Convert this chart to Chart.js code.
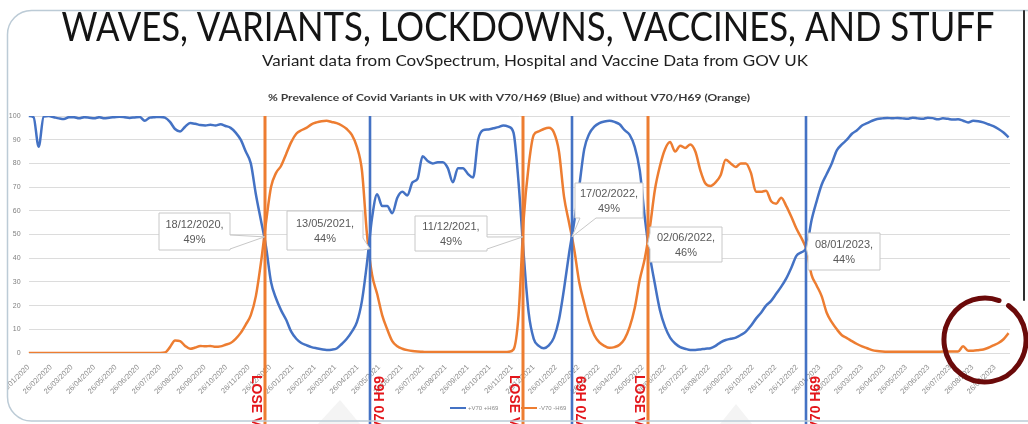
<!DOCTYPE html>
<html>
<head>
<meta charset="utf-8">
<title>Waves, variants, lockdowns, vaccines, and stuff</title>
<script src="https://cdn.jsdelivr.net/npm/chart.js@4.4.1/dist/chart.umd.min.js"></script>
<style>
  html, body { margin: 0; padding: 0; background: #fff; }
  #wrap { position: relative; width: 1028px; height: 424px; }
</style>
</head>
<body>
<div id="wrap"><canvas id="variantChart" width="1028" height="424"></canvas></div>
<script>
// weekly sample dates (dd/mm/yyyy)
const weekDates = [
  '26/01/2020',
  '02/02/2020','09/02/2020','16/02/2020','23/02/2020',
  '01/03/2020','08/03/2020','15/03/2020','22/03/2020','29/03/2020',
  '05/04/2020','12/04/2020','19/04/2020','26/04/2020',
  '03/05/2020','10/05/2020','17/05/2020','24/05/2020','31/05/2020',
  '07/06/2020','14/06/2020','21/06/2020','28/06/2020',
  '05/07/2020','12/07/2020','19/07/2020','26/07/2020',
  '02/08/2020','09/08/2020','16/08/2020','23/08/2020','30/08/2020',
  '06/09/2020','13/09/2020','20/09/2020','27/09/2020',
  '04/10/2020','11/10/2020','18/10/2020','25/10/2020',
  '01/11/2020','08/11/2020','15/11/2020','22/11/2020','29/11/2020',
  '06/12/2020','13/12/2020','20/12/2020','27/12/2020',
  '03/01/2021','10/01/2021','17/01/2021','24/01/2021','31/01/2021',
  '07/02/2021','14/02/2021','21/02/2021','28/02/2021',
  '07/03/2021','14/03/2021','21/03/2021','28/03/2021',
  '04/04/2021','11/04/2021','18/04/2021','25/04/2021',
  '02/05/2021','09/05/2021','16/05/2021','23/05/2021','30/05/2021',
  '06/06/2021','13/06/2021','20/06/2021','27/06/2021',
  '04/07/2021','11/07/2021','18/07/2021','25/07/2021',
  '01/08/2021','08/08/2021','15/08/2021','22/08/2021','29/08/2021',
  '05/09/2021','12/09/2021','19/09/2021','26/09/2021',
  '03/10/2021','10/10/2021','17/10/2021','24/10/2021','31/10/2021',
  '07/11/2021','14/11/2021','21/11/2021','28/11/2021',
  '05/12/2021','12/12/2021','19/12/2021','26/12/2021',
  '02/01/2022','09/01/2022','16/01/2022','23/01/2022','30/01/2022',
  '06/02/2022','13/02/2022','20/02/2022','27/02/2022',
  '06/03/2022','13/03/2022','20/03/2022','27/03/2022',
  '03/04/2022','10/04/2022','17/04/2022','24/04/2022',
  '01/05/2022','08/05/2022','15/05/2022','22/05/2022','29/05/2022',
  '05/06/2022','12/06/2022','19/06/2022','26/06/2022',
  '03/07/2022','10/07/2022','17/07/2022','24/07/2022','31/07/2022',
  '07/08/2022','14/08/2022','21/08/2022','28/08/2022',
  '04/09/2022','11/09/2022','18/09/2022','25/09/2022',
  '02/10/2022','09/10/2022','16/10/2022','23/10/2022','30/10/2022',
  '06/11/2022','13/11/2022','20/11/2022','27/11/2022',
  '04/12/2022','11/12/2022','18/12/2022','25/12/2022',
  '01/01/2023','08/01/2023','15/01/2023','22/01/2023','29/01/2023',
  '05/02/2023','12/02/2023','19/02/2023','26/02/2023',
  '05/03/2023','12/03/2023','19/03/2023','26/03/2023',
  '02/04/2023','09/04/2023','16/04/2023','23/04/2023','30/04/2023',
  '07/05/2023','14/05/2023','21/05/2023','28/05/2023',
  '04/06/2023','11/06/2023','18/06/2023','25/06/2023',
  '02/07/2023','09/07/2023','16/07/2023','23/07/2023','30/07/2023',
  '06/08/2023','13/08/2023','20/08/2023','27/08/2023',
  '03/09/2023','10/09/2023','17/09/2023','24/09/2023',
  '01/10/2023','08/10/2023','15/10/2023'
];

// % with V70/H69 (blue)
const withV70 = [
  100,
  99.5, 87, 99.8, 100,
  99.5, 99, 98.7, 99.5, 99.5,
  99, 99.5, 99.3, 99,
  99.5, 99, 99.3, 99.5, 99.7,
  99.5, 99.2, 99.4, 99.6,
  98, 99.3, 99.5, 99.6,
  99.3, 97.5, 94.5, 93.5, 95.5,
  97, 96.7, 96.2, 96,
  96.3, 96, 96.5, 95.8,
  95, 93, 90, 85, 80,
  67, 56, 45, 30,
  23, 18, 14, 9, 6,
  4.2, 3.3, 2.5, 2,
  1.6, 1.3, 1.4, 1.9,
  3.8, 6, 9, 13,
  22, 38, 57, 67, 62,
  62, 59, 65.5, 68,
  66.5, 72, 73.5, 83,
  81, 80, 80.5, 80.5, 78,
  72, 78, 78, 75.5,
  74, 90, 94, 94.3, 94.8,
  95.3, 96, 95.5, 93,
  72, 42, 17, 6,
  3, 2, 3.2, 6.5, 14,
  27, 42, 55, 70,
  86, 92.5, 95.5, 97,
  97.7, 98, 97.5, 96.5,
  94, 92, 87, 77, 57,
  41, 29, 18, 11,
  6.5, 4, 2.5, 1.8, 1.3,
  1.3, 1.5, 1.8, 2,
  3, 4.5, 5.5, 6,
  6.5, 7.6, 9, 11.5, 14.5,
  17, 20, 22, 25,
  28, 31.5, 36, 41,
  42.5, 44.5, 56, 64, 71,
  75.5, 80, 85.5, 88,
  90, 92.5, 94, 96,
  97, 98, 98.7, 99, 99.2,
  99, 99.2, 99, 98.8,
  99.3, 99, 98.8, 99.3,
  99.1, 98.6, 99, 98.8, 98.5,
  98.6, 98, 97.3, 98,
  97.8, 97.3, 96.5, 95.7,
  94.5, 93, 91
];

// % without V70/H69 (orange)
const withoutV70 = [
  0,
  0, 0, 0, 0,
  0, 0, 0, 0, 0,
  0, 0, 0, 0,
  0, 0, 0, 0, 0,
  0, 0, 0, 0,
  0, 0, 0, 0,
  0.2, 2.5, 5.3, 5, 3,
  1.8, 2.3, 3, 2.8,
  3, 2.6, 2.8, 3.5,
  4.2, 6, 8.5, 12, 16,
  24, 38, 55, 70,
  76, 79, 84, 89, 92.5,
  94, 95, 96.5, 97.3,
  97.8, 98, 97.5, 97,
  96, 94.5, 92, 87,
  77, 50, 33, 25, 16,
  10, 5, 2.8, 1.8,
  1.2, 0.8, 0.6, 0.5,
  0.4, 0.4, 0.4, 0.4, 0.4,
  0.4, 0.4, 0.4, 0.4,
  0.4, 0.4, 0.4, 0.4, 0.4,
  0.4, 0.4, 0.5, 1.5,
  16, 56, 79, 92,
  93.5, 94.5, 95, 93, 85,
  66, 55, 44, 30,
  21, 13, 7.5, 4.5,
  3, 2.2, 2.5, 3.5,
  6, 11, 19, 31, 40,
  53, 69, 79, 86,
  89, 85, 87.5, 86.5, 88,
  85, 77, 71.5, 70.5,
  72, 75, 81.5, 80,
  78.5, 80, 80, 76, 68,
  68, 68.5, 64, 63,
  65.5, 62, 57.5, 52.5,
  48.5, 43.5, 33, 28.5, 24,
  17, 13, 10, 7.5,
  6.3, 5, 3.8, 2.8,
  2, 1.2, 0.8, 0.6, 0.5,
  0.5, 0.5, 0.5, 0.5,
  0.5, 0.5, 0.5, 0.5,
  0.5, 0.5, 0.6, 0.6, 0.6,
  0.6, 2.8, 1, 1,
  1.2, 1.5, 2.2, 3.2,
  4.2, 5.8, 8.4
];

const tickLabels = [
  '26/01/2020','26/02/2020','26/03/2020','26/04/2020','26/05/2020','26/06/2020',
  '26/07/2020','26/08/2020','26/09/2020','26/10/2020','26/11/2020','26/12/2020',
  '26/01/2021','26/02/2021','26/03/2021','26/04/2021','26/05/2021','26/06/2021',
  '26/07/2021','26/08/2021','26/09/2021','26/10/2021','26/11/2021','26/12/2021',
  '26/01/2022','26/02/2022','26/03/2022','26/04/2022','26/05/2022','26/06/2022',
  '26/07/2022','26/08/2022','26/09/2022','26/10/2022','26/11/2022','26/12/2022',
  '26/01/2023','26/02/2023','26/03/2023','26/04/2023','26/05/2023','26/06/2023',
  '26/07/2023','26/08/2023','26/09/2023'
];

// switch-over dates, marked with vertical lines and callouts
const changeDates = ['18/12/2020','13/05/2021','11/12/2021','17/02/2022','02/06/2022','08/01/2023'];
const changePct   = [49, 44, 49, 49, 46, 44];
const changeKind  = ['lose','gain','lose','gain','lose','gain'];
const kindText    = { lose: 'LOSE V70 H69', gain: 'GAIN V70 H69' };
const seriesNames = ['+V70 +H69', '-V70 -H69'];

// callout box placement (pixels), same order as changeDates
const calloutLayout = [
  { x: 159, y: 213, w: 71, h: 37, side: 'right',  b1: 235, b2: 249 },
  { x: 287, y: 211, w: 76, h: 39, side: 'right',  b1: 238, b2: 250 },
  { x: 415, y: 216, w: 72, h: 35, side: 'right',  b1: 237, b2: 249 },
  { x: 575, y: 183, w: 68, h: 35, side: 'bottom', b1: 580, b2: 596 },
  { x: 650, y: 227, w: 72, h: 35, side: 'left',   b1: 233, b2: 249 },
  { x: 808, y: 233, w: 72, h: 37, side: 'left',   b1: 240, b2: 256 }
];

const BLUE = '#4472c4';
const ORANGE = '#ed7d31';
const FONT = "'Liberation Sans', Arial, sans-serif";

function dayOf(s) {
  const [d, m, y] = s.split('/').map(Number);
  return (Date.UTC(y, m - 1, d) - Date.UTC(2020, 0, 26)) / 86400000;
}

function fitText(ctx, text, cx, baseline, font, width, color) {
  ctx.save();
  ctx.font = font;
  const w = ctx.measureText(text).width;
  ctx.translate(cx, baseline);
  ctx.scale(width / w, 1);
  ctx.fillStyle = color;
  ctx.textAlign = 'center';
  ctx.textBaseline = 'alphabetic';
  ctx.fillText(text, 0, 0);
  ctx.restore();
}

function calloutPath(ctx, b, tx, ty) {
  const x1 = b.x, y1 = b.y, x2 = b.x + b.w, y2 = b.y + b.h;
  ctx.beginPath();
  ctx.moveTo(x1, y1);
  ctx.lineTo(x2, y1);
  if (b.side === 'right') { ctx.lineTo(x2, b.b1); ctx.lineTo(tx, ty); ctx.lineTo(x2, b.b2); }
  ctx.lineTo(x2, y2);
  if (b.side === 'bottom') { ctx.lineTo(b.b2, y2); ctx.lineTo(tx, ty); ctx.lineTo(b.b1, y2); }
  ctx.lineTo(x1, y2);
  if (b.side === 'left') { ctx.lineTo(x1, b.b2); ctx.lineTo(tx, ty); ctx.lineTo(x1, b.b1); }
  ctx.closePath();
}

const overlayPlugin = {
  id: 'overlay',
  beforeDraw(chart) {
    const ctx = chart.ctx;
    ctx.save();
    ctx.fillStyle = '#fff';
    ctx.fillRect(0, 0, chart.width, chart.height);

    // faint watermark shapes at the bottom
    ctx.fillStyle = '#f4f4f4';
    ctx.beginPath(); ctx.moveTo(318, 424); ctx.lineTo(340, 400); ctx.lineTo(360, 424); ctx.fill();
    ctx.beginPath(); ctx.moveTo(720, 424); ctx.lineTo(736, 404); ctx.lineTo(752, 424); ctx.fill();

    fitText(ctx, 'WAVES, VARIANTS, LOCKDOWNS, VACCINES, AND STUFF', 528, 41, '41px Lato', 933, '#141414');
    fitText(ctx, 'Variant data from CovSpectrum, Hospital and Vaccine Data from GOV UK', 535, 66, '15px Lato', 546, '#1e1e1e');
    fitText(ctx, '% Prevalence of Covid Variants in UK with V70/H69 (Blue) and without V70/H69 (Orange)',
      509, 101, 'bold 10px Lato', 482, '#3a3a3a');
    ctx.restore();
  },
  afterDatasetsDraw(chart) {
    const ctx = chart.ctx;
    const xs = chart.scales.x;
    const top = chart.chartArea.top;
    ctx.save();
    changeDates.forEach((d, i) => {
      const x = Math.round(xs.getPixelForValue(dayOf(d)));
      const lose = changeKind[i] === 'lose';
      ctx.strokeStyle = lose ? ORANGE : BLUE;
      ctx.lineWidth = lose ? 3 : 2.6;
      ctx.beginPath();
      ctx.moveTo(x, top);
      ctx.lineTo(x, chart.height);
      ctx.stroke();

      // rotated red label beside the line
      ctx.save();
      ctx.fillStyle = '#e3161b';
      ctx.font = 'bold 14px ' + FONT;
      ctx.textBaseline = 'alphabetic';
      if (lose) {
        ctx.translate(x - 13, 375);
        ctx.rotate(Math.PI / 2);
        ctx.textAlign = 'left';
      } else {
        ctx.translate(x + 14, 376);
        ctx.rotate(-Math.PI / 2);
        ctx.textAlign = 'right';
      }
      ctx.fillText(kindText[changeKind[i]], 0, 0);
      ctx.restore();
    });
    ctx.restore();
  },
  afterDraw(chart) {
    const ctx = chart.ctx;
    const xs = chart.scales.x, ys = chart.scales.y;
    ctx.save();

    // callouts
    changeDates.forEach((d, i) => {
      const b = calloutLayout[i];
      const tx = xs.getPixelForValue(dayOf(d));
      const ty = ys.getPixelForValue(changePct[i]);
      calloutPath(ctx, b, tx, ty);
      ctx.fillStyle = '#fff';
      ctx.fill();
      ctx.strokeStyle = '#c8c8c8';
      ctx.lineWidth = 1;
      ctx.stroke();
      ctx.fillStyle = '#595959';
      ctx.font = '11px ' + FONT;
      ctx.textAlign = 'center';
      ctx.textBaseline = 'middle';
      const cx = b.x + b.w / 2;
      ctx.fillText(d + ',', cx, b.y + b.h / 2 - 7);
      ctx.fillText(changePct[i] + '%', cx, b.y + b.h / 2 + 8);
    });

    // small legend
    [[450, BLUE, seriesNames[0]], [521, ORANGE, seriesNames[1]]].forEach(([lx, col, txt]) => {
      ctx.strokeStyle = col;
      ctx.lineWidth = 2;
      ctx.beginPath();
      ctx.moveTo(lx, 408);
      ctx.lineTo(lx + 16, 408);
      ctx.stroke();
      ctx.fillStyle = '#8a8a8a';
      ctx.font = '6px ' + FONT;
      ctx.textAlign = 'left';
      ctx.textBaseline = 'middle';
      ctx.fillText(txt, lx + 18, 408);
    });

    // hand drawn circle round the recent rise
    ctx.strokeStyle = '#6b0a0a';
    ctx.lineWidth = 5;
    ctx.lineCap = 'round';
    ctx.beginPath();
    ctx.ellipse(985, 340, 41, 42, 0, -55 * Math.PI / 180, 290 * Math.PI / 180);
    ctx.stroke();

    // screenshot frame
    ctx.fillStyle = '#fff';
    ctx.fillRect(0, 0, 7, chart.height);
    ctx.strokeStyle = '#bccbd6';
    ctx.lineWidth = 1.5;
    ctx.beginPath();
    const r = 24, L = 7.5, T = 10.5, R = 1040, B = 421;
    ctx.moveTo(R, T);
    ctx.lineTo(L + r, T);
    ctx.arcTo(L, T, L, T + r, r);
    ctx.lineTo(L, B - r);
    ctx.arcTo(L, B, L + r, B, r);
    ctx.lineTo(R, B);
    ctx.stroke();
    ctx.strokeStyle = '#2e2e2e';
    ctx.lineWidth = 2;
    ctx.beginPath();
    ctx.moveTo(1024, 11);
    ctx.lineTo(1024, 300);
    ctx.stroke();
    ctx.restore();
  }
};

Chart.defaults.font.family = FONT;

const chartCanvas = document.getElementById('variantChart');
new Chart(chartCanvas.getContext('2d'), {
  type: 'line',
  data: {
    datasets: [
      {
        label: seriesNames[0],
        data: weekDates.map((d, i) => ({ x: dayOf(d), y: withV70[i] })),
        borderColor: BLUE,
        borderWidth: 2.5,
        pointRadius: 0,
        cubicInterpolationMode: 'monotone'
      },
      {
        label: seriesNames[1],
        data: weekDates.map((d, i) => ({ x: dayOf(d), y: withoutV70[i] })),
        borderColor: ORANGE,
        borderWidth: 2.5,
        pointRadius: 0,
        cubicInterpolationMode: 'monotone'
      }
    ]
  },
  options: {
    responsive: false,
    animation: false,
    devicePixelRatio: 1,
    layout: { padding: { top: 116, right: 18, left: 0, bottom: 0 } },
    plugins: {
      legend: { display: false },
      tooltip: { enabled: false }
    },
    scales: {
      x: {
        type: 'linear',
        min: 0,
        max: 1360,
        grid: { display: false },
        border: { display: false },
        afterBuildTicks: scale => {
          scale.ticks = tickLabels.map(t => ({ value: dayOf(t) }));
        },
        afterFit: scale => { scale.height = 71; },
        ticks: {
          autoSkip: false,
          minRotation: 45,
          maxRotation: 45,
          padding: 2,
          color: '#8c8c8c',
          font: { size: 7.5 },
          callback: (value, index) => tickLabels[index]
        }
      },
      y: {
        min: 0,
        max: 100,
        afterFit: scale => { scale.width = 28; },
        grid: { color: '#dcdcdc', drawTicks: false },
        border: { display: false },
        ticks: { stepSize: 10, padding: 8, color: '#7f7f7f', font: { size: 7 } }
      }
    }
  },
  plugins: [overlayPlugin]
});
</script>
</body>
</html>
